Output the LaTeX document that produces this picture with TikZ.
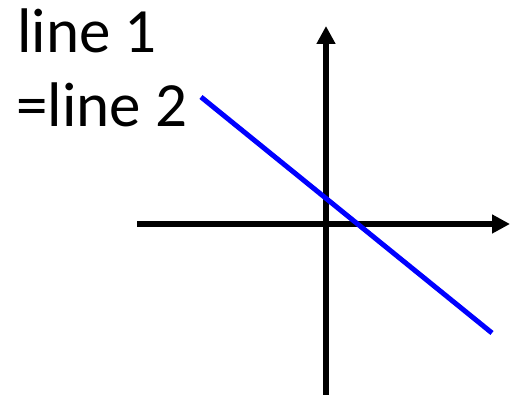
\documentclass[tikz,border=0pt]{standalone}
\usepackage{fontspec}
\setmainfont{Carlito}
\usetikzlibrary{arrows.meta}
\begin{document}
\begin{tikzpicture}[x=1pt,y=1pt,
  axis/.style={line width=5.5pt,-{Triangle[length=18pt,width=18pt]}},
  bluel/.style={line width=5pt,draw={rgb,255:red,0;green,0;blue,255}},
  lbl/.style={font=\fontsize{63}{75}\selectfont,inner sep=0pt,anchor=base west}]
\useasboundingbox (0,0) rectangle (512,401);
\coordinate (vb) at (326,6);
\coordinate (vt) at (326,375);
\coordinate (hl) at (137,177);
\coordinate (hr) at (510,177);
\coordinate (b1) at (201,304);
\coordinate (b2) at (492,68);
\draw[axis] (vb) -- (vt);
\draw[axis] (hl) -- (hr);
\draw[bluel] (b1) -- (b2);
\node[lbl] (l1) at (17,348) {line 1};
\node[lbl] (l2) at (16,274) {=line 2};
\end{tikzpicture}
\end{document}
